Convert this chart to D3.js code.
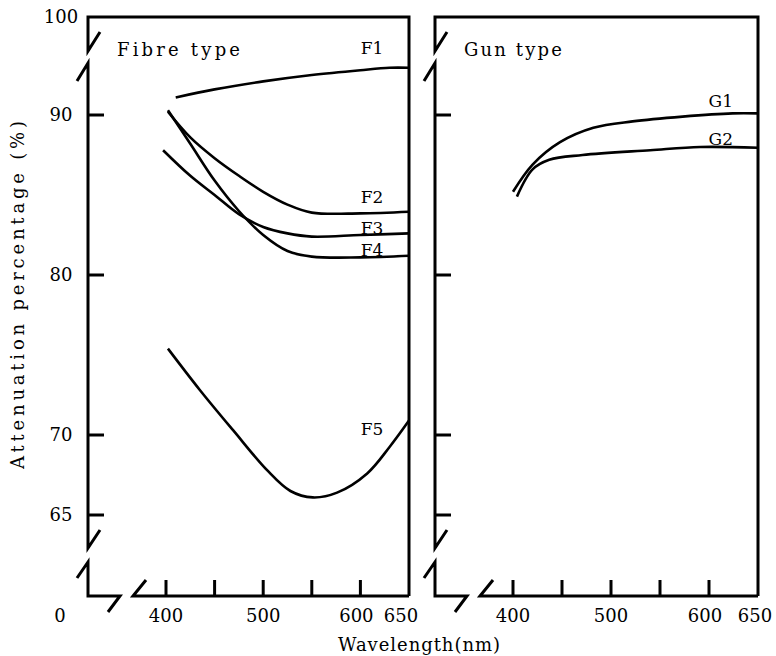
<!DOCTYPE html>
<html lang="en">
<head>
<meta charset="UTF-8">
<title>Attenuation percentage</title>
<script src="https://cdn.jsdelivr.net/npm/d3@7"></script>
<style>
  body { margin: 0; background: #fff; }
  svg text { font-family: "DejaVu Serif", "Liberation Serif", serif; font-size: 18px; fill: #000; }
  svg text.series-label { font-size: 17px; }
</style>
</head>
<body>
<svg class="chart"></svg>
<script>
// data
const wavelengthTicks = [400, 450, 500, 550, 600, 650];
const wavelengthLabels = [400, 500, 600, 650];
const percentTicks = [65, 70, 80, 90];

const f1 = [[410, 91.1], [450, 91.6], [500, 92.1], [550, 92.5], [600, 92.8], [630, 92.95], [650, 92.95]];
const f2 = [[402, 90.2], [425, 88.6], [450, 87.3], [475, 86.2], [500, 85.2], [525, 84.4], [550, 83.9], [600, 83.85], [650, 83.95]];
const f3 = [[397, 87.8], [425, 86.2], [450, 85.0], [475, 83.8], [500, 83.0], [525, 82.6], [550, 82.4], [600, 82.5], [650, 82.6]];
const f4 = [[402, 90.3], [425, 88.2], [450, 85.9], [475, 84.0], [500, 82.5], [525, 81.5], [550, 81.15], [600, 81.1], [650, 81.2]];
const f5 = [[402, 75.4], [435, 72.8], [469, 70.3], [504, 67.8], [528, 66.5], [551, 66.1], [576, 66.4], [607, 67.6], [630, 69.25], [650, 70.9]];
const g1 = [[400, 85.2], [420, 86.9], [448, 88.3], [482, 89.2], [522, 89.6], [573, 89.9], [624, 90.1], [650, 90.1]];
const g2 = [[404, 84.9], [420, 86.6], [437, 87.2], [471, 87.5], [540, 87.8], [591, 88.0], [650, 87.95]];

const width = 776, height = 656;
const frameTop = 17, frameBottom = 596;

const svg = d3.select('.chart').attr('width', width).attr('height', height);

const y = d3.scaleLinear().domain([65, 90]).range([515, 115]);

// label offsets (px above the curve at 612 nm)
const panels = [
  { title: 'Fibre type', x0: 88, x1: 409, range: [166, 409], showY: true,
    series: [['F1', f1, -22], ['F2', f2, -17], ['F3', f3, -7.5], ['F4', f4, -8.5], ['F5', f5, -40]],
    labelShift: { 600: -4, 650: -8 } },
  { title: 'Gun type', x0: 435, x1: 758, range: [513, 758], showY: false,
    series: [['G1', g1, -14], ['G2', g2, -9]],
    labelShift: { 600: -4, 650: -3 } }
];

panels.forEach(p => {
  const x = d3.scaleLinear().domain([400, 650]).range(p.range);
  const g = svg.append('g');
  const x0 = p.x0;

  // frame with axis breaks
  const frame = d3.path();
  frame.moveTo(x0 + 12, 32); frame.lineTo(x0, 51); frame.lineTo(x0, frameTop);
  frame.lineTo(p.x1, frameTop); frame.lineTo(p.x1, frameBottom);
  frame.moveTo(x0 - 11, 81); frame.lineTo(x0, 63); frame.lineTo(x0, 548); frame.lineTo(x0 + 12, 530);
  frame.moveTo(x0 - 11, 578); frame.lineTo(x0, 562); frame.lineTo(x0, frameBottom);
  frame.lineTo(x0 + 32, frameBottom); frame.lineTo(x0 + 20, 612);
  frame.moveTo(x0 + 58, 580); frame.lineTo(x0 + 45, frameBottom); frame.lineTo(p.x1, frameBottom);
  g.append('path').attr('d', frame.toString())
    .attr('fill', 'none').attr('stroke', '#000').attr('stroke-width', 3).attr('stroke-linejoin', 'miter');

  // inward ticks
  g.selectAll('.yt').data(percentTicks).enter().append('line')
    .attr('x1', x0).attr('x2', x0 + 16)
    .attr('y1', d => y(d)).attr('y2', d => y(d))
    .attr('stroke', '#000').attr('stroke-width', 3);
  g.selectAll('.xt').data(wavelengthTicks.filter(d => d < 650)).enter().append('line')
    .attr('x1', d => x(d)).attr('x2', d => x(d))
    .attr('y1', frameBottom).attr('y2', frameBottom - 16)
    .attr('stroke', '#000').attr('stroke-width', 3);

  // x labels
  g.selectAll('.xl').data(wavelengthLabels).enter().append('text')
    .attr('x', d => x(d) + (p.labelShift[d] || 0))
    .attr('y', 622)
    .attr('text-anchor', 'middle')
    .text(d => d);

  if (p.showY) {
    g.selectAll('.yl').data(percentTicks).enter().append('text')
      .attr('x', 61).attr('y', d => y(d) + 6)
      .attr('text-anchor', 'middle')
      .text(d => d);
    g.append('text').attr('x', 61).attr('y', frameTop + 6).attr('text-anchor', 'middle').text('100');
    g.append('text').attr('x', 60).attr('y', 622).attr('text-anchor', 'middle').text('0');
  }

  g.append('text').attr('x', x0 + 29).attr('y', 56)
    .attr('textLength', p.title.length * 12.6 - 3).attr('lengthAdjust', 'spacing')
    .text(p.title);

  const line = d3.line().x(d => x(d[0])).y(d => y(d[1])).curve(d3.curveCatmullRom.alpha(0.5));
  p.series.forEach(([name, pts, dy]) => {
    g.append('path').attr('d', line(pts))
      .attr('fill', 'none').attr('stroke', '#000').attr('stroke-width', 2.6);
    const yAt = d3.scaleLinear().domain(pts.map(d => d[0])).range(pts.map(d => d[1]))(612);
    g.append('text')
      .attr('class', 'series-label')
      .attr('x', x(612)).attr('y', y(yAt) + dy + 7)
      .attr('text-anchor', 'middle')
      .text(name);
  });
});

// axis titles
svg.append('text')
  .attr('transform', 'translate(24,295) rotate(-90)')
  .attr('text-anchor', 'middle')
  .attr('textLength', 348).attr('lengthAdjust', 'spacing')
  .text('Attenuation percentage (%)');
svg.append('text')
  .attr('x', 419).attr('y', 651)
  .attr('text-anchor', 'middle')
  .attr('textLength', 162).attr('lengthAdjust', 'spacing')
  .text('Wavelength(nm)');
</script>
</body>
</html>
